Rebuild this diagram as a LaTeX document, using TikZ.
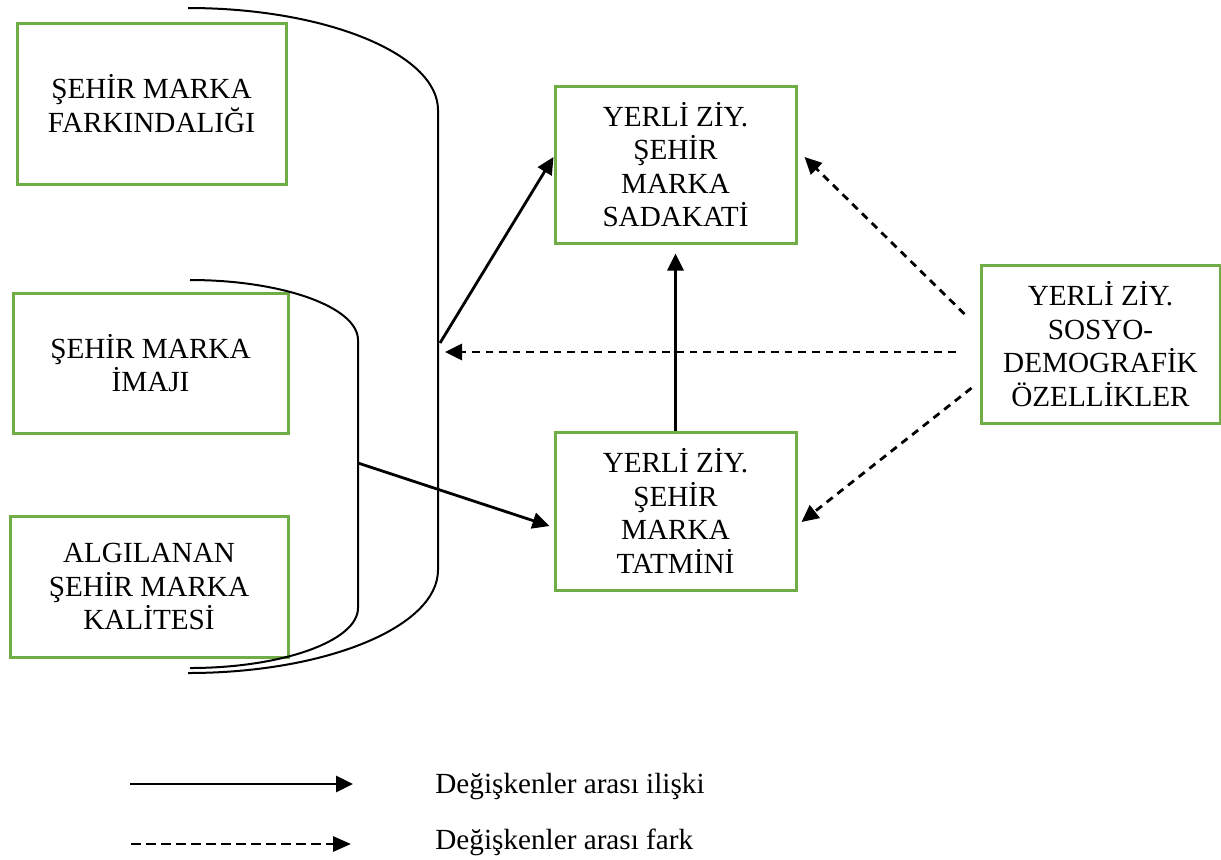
\documentclass[tikz,border=0pt]{standalone}
\usepackage{fontspec}
\setmainfont{Liberation Serif}
\usetikzlibrary{arrows.meta}
\definecolor{boxgreen}{RGB}{112,173,71}
\begin{document}
\begin{tikzpicture}[x=0.5pt,y=-0.5pt,
  every node/.style={font=\fontsize{14.6}{16.8}\selectfont},
  varbox/.style={draw=boxgreen,line width=1.5pt,align=center,inner sep=0pt},
  rel/.style={line width=1.4pt,-{Triangle[length=8.5pt,width=8pt]}},
  diff/.style={line width=1.4pt,dash pattern=on 3.8pt off 3pt,-{Triangle[length=8.5pt,width=8pt]}},
  legdiff/.style={line width=1.4pt,dash pattern=on 5pt off 2.5pt,-{Triangle[length=9pt,width=7.5pt]}},
  brace/.style={line width=1pt},
  legtext/.style={anchor=base west,inner sep=0pt}]
\useasboundingbox (0,0) rectangle (1221,859);

% boxes
\node[varbox,minimum width=134.5pt,minimum height=80.5pt] (far) at (151.5,103.5) {ŞEHİR MARKA\\FARKINDALIĞI};
\node[varbox,minimum width=137.5pt,minimum height=70pt] (ima) at (150.5,363) {ŞEHİR MARKA\\İMAJI};
\node[varbox,minimum width=139pt,minimum height=70.5pt] (kal) at (149,586.5) {ALGILANAN\\ŞEHİR MARKA\\KALİTESİ};
\node[varbox,minimum width=120.5pt,minimum height=78.5pt] (sad) at (675.5,164.5) {YERLİ ZİY.\\ŞEHİR\\MARKA\\SADAKATİ};
\node[varbox,minimum width=120.5pt,minimum height=79pt] (tat) at (675.5,511) {YERLİ ZİY.\\ŞEHİR\\MARKA\\TATMİNİ};
\node[varbox,minimum width=119.5pt,minimum height=79pt] (sos) at (1100.5,344) {YERLİ ZİY.\\SOSYO-\\DEMOGRAFİK\\ÖZELLİKLER};

% brackets
\draw[brace] (188,8) .. controls (325.5,8) and (438,54) .. (438,110) -- (438,570)
  .. controls (438,627) and (325.5,673) .. (188,673);
\draw[brace] (190,280) .. controls (282,280) and (358,307) .. (358,340) -- (358,608)
  .. controls (358,641) and (282,668) .. (190,668);

\coordinate (bigA) at (440,343);
\coordinate (bigB) at (445,352);
\coordinate (smallA) at (358,463);

% relations
\draw[rel] (bigA) -- ([yshift=3.75pt]sad.west);
\draw[rel] (smallA) -- ([xshift=-2pt,yshift=-7.5pt]tat.west);
\draw[rel] (tat.north) -- ([yshift=-4.5pt]sad.south);

% differences
\draw[diff] ([xshift=-12pt,yshift=-4pt]sos.west) -- (bigB);
\draw[diff] ([xshift=-7.5pt,yshift=15pt]sos.west) -- ([xshift=3.5pt,yshift=3.75pt]sad.east);
\draw[diff] ([xshift=-4pt,yshift=-22pt]sos.west) -- ([xshift=2pt,yshift=-5.5pt]tat.east);

% legend
\coordinate (l1a) at (130,784);
\coordinate (l1b) at (353,784);
\coordinate (l2a) at (131,844);
\coordinate (l2b) at (351,844);
\draw[rel] (l1a) -- (l1b);
\draw[legdiff] (l2a) -- (l2b);
\node[legtext] (leg1) at (435,793) {Değişkenler arası ilişki};
\node[legtext] (leg2) at (435,849) {Değişkenler arası fark};
\end{tikzpicture}
\end{document}
